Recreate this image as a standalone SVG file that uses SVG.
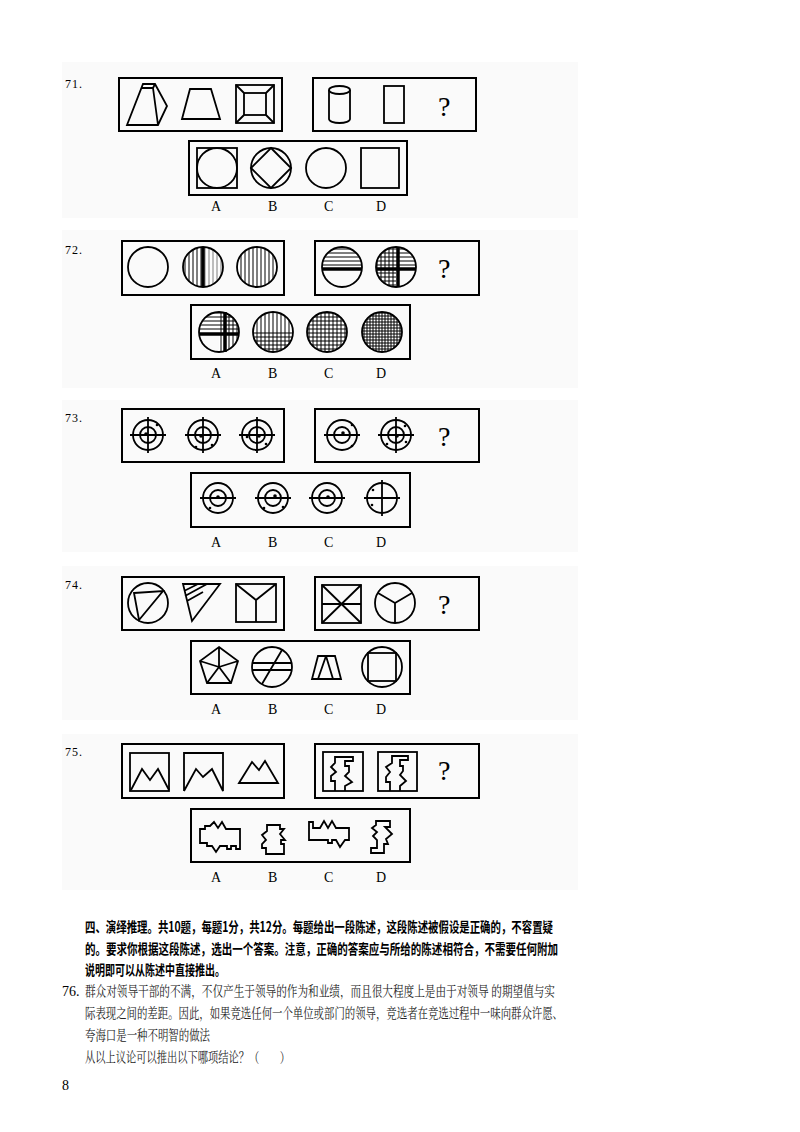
<svg xmlns="http://www.w3.org/2000/svg" width="800" height="1132" viewBox="0 0 800 1132">
<style>
.bx{fill:none;stroke:#000;stroke-width:2}
.s{fill:none;stroke:#000;stroke-width:1.8;stroke-linejoin:miter}
.t{stroke:#000;stroke-width:3.5}
.lab{font-family:"Liberation Serif",serif;font-size:14px;fill:#000}
.num{font-family:"Liberation Serif",serif;font-size:12px;fill:#000;letter-spacing:1px}
.q{font-family:"Liberation Serif",serif;font-size:28px;fill:#000}
.bt{font-family:"Noto Sans CJK SC",sans-serif;font-size:14px;font-weight:bold;fill:#000}
.nt{font-family:"Noto Serif CJK SC","Noto Sans CJK SC",serif;font-size:14px;fill:#222}
.dot{fill:#000}
</style>
<defs>
<pattern id="pv" width="4" height="4" patternUnits="userSpaceOnUse"><rect width="4" height="4" fill="#fff"/><line x1="1" y1="0" x2="1" y2="4" stroke="#000" stroke-width="1"/></pattern>
<pattern id="ph" width="4" height="4" patternUnits="userSpaceOnUse"><rect width="4" height="4" fill="#fff"/><line x1="0" y1="1" x2="4" y2="1" stroke="#000" stroke-width="1"/></pattern>
<pattern id="pg" width="4" height="4" patternUnits="userSpaceOnUse"><rect width="4" height="4" fill="#fff"/><path d="M1 0V4M0 1H4" stroke="#000" stroke-width="1"/></pattern>
<pattern id="pd" width="3" height="3" patternUnits="userSpaceOnUse"><rect width="3" height="3" fill="#fff"/><path d="M1 0V3M0 1H3" stroke="#000" stroke-width="1"/></pattern>
</defs>
<rect width="800" height="1132" fill="#fff"/>
<g id="bg" fill="#fafafa">
<rect x="62" y="62" width="516" height="156"/>
<rect x="62" y="230" width="516" height="158"/>
<rect x="62" y="400" width="516" height="152"/>
<rect x="62" y="566" width="516" height="154"/>
<rect x="62" y="734" width="516" height="156"/>
</g>

<g id="q71">
<text class="num" x="65" y="88">71.</text>
<rect class="bx" x="119" y="78" width="163" height="53" fill="#fff"/>
<rect class="bx" x="313" y="78" width="163" height="53" fill="#fff"/>
<rect class="bx" x="189" y="141" width="218" height="54" fill="#fff"/>
<path class="s" d="M127 125L143 84H155L167 106L158 125Z M142 88H153 M153 88L158 125 M155 84L153 88"/>
<path class="s" d="M182 119L190 89H211L220 119Z"/>
<rect class="s" x="236" y="85" width="38" height="38"/><rect class="s" x="244" y="93" width="22" height="22"/>
<path class="s" d="M236 85L244 93M274 85L266 93M236 123L244 115M274 123L266 115"/>
<path class="s" d="M329 90V119A10.5 4 0 0 0 350 119V90"/><ellipse class="s" cx="339.5" cy="90" rx="10.5" ry="4"/>
<rect class="s" x="384" y="86" width="20" height="37"/>
<text class="q" x="438" y="116">?</text>
<rect class="s" x="197" y="148" width="40" height="40"/><circle class="s" cx="217" cy="168" r="20"/>
<circle class="s" cx="271" cy="168" r="20"/><path class="s" d="M271 148L291 168L271 188L251 168Z"/>
<circle class="s" cx="326" cy="168" r="20"/>
<rect class="s" x="361" y="148" width="38" height="40"/>
<text class="lab" x="211" y="211">A</text><text class="lab" x="268" y="211">B</text><text class="lab" x="324" y="211">C</text><text class="lab" x="376" y="211">D</text>
</g>

<g id="q72">
<text class="num" x="65" y="254">72.</text>
<rect class="bx" x="122" y="241" width="162" height="54" fill="#fff"/>
<rect class="bx" x="315" y="241" width="164" height="54" fill="#fff"/>
<rect class="bx" x="191" y="305" width="219" height="54" fill="#fff"/>
<circle class="s" cx="148" cy="267" r="20"/>
<path d="M203 247A20 20 0 0 0 203 287Z" fill="url(#pv)"/><path d="M203 247A20 20 0 0 1 203 287Z" fill="url(#pv)" opacity="0.5"/><line class="t" x1="203" y1="247" x2="203" y2="287"/><circle class="s" cx="203" cy="267" r="20"/>
<circle cx="257" cy="267" r="20" fill="url(#pv)"/><circle class="s" cx="257" cy="267" r="20"/>
<path d="M322 267A20 20 0 0 1 362 267Z" fill="url(#ph)"/><line class="t" x1="322" y1="269" x2="362" y2="269"/><circle class="s" cx="342" cy="267" r="20"/>
<path d="M376 267A20 20 0 0 1 416 267Z" fill="url(#ph)"/><path d="M396 247A20 20 0 0 0 376 267L396 267Z M376 267A20 20 0 0 0 396 287V267Z" fill="url(#pg)"/><path class="t" d="M376 269H416M398 247V287" stroke-width="2.5"/><circle class="s" cx="396" cy="267" r="20"/>
<text class="q" x="438" y="278">?</text>
<path d="M199 332A20 20 0 0 1 239 332Z" fill="url(#ph)"/><path d="M219 312A20 20 0 0 1 219 352Z" fill="url(#pv)"/><path d="M219 312A20 20 0 0 1 239 332H219Z" fill="url(#pg)"/><path class="t" d="M199 334H239M225 312V352" stroke-width="2.5"/><circle class="s" cx="219" cy="332" r="20"/>
<path d="M253 332A20 20 0 0 1 293 332Z" fill="url(#pv)"/><path d="M253 332A20 20 0 0 0 293 332Z" fill="url(#pg)"/><circle class="s" cx="273" cy="332" r="20"/>
<circle cx="327" cy="332" r="20" fill="url(#pg)"/><circle class="s" cx="327" cy="332" r="20"/>
<circle cx="382" cy="332" r="20" fill="url(#pd)"/><circle class="s" cx="382" cy="332" r="20"/>
<text class="lab" x="211" y="378">A</text><text class="lab" x="268" y="378">B</text><text class="lab" x="324" y="378">C</text><text class="lab" x="376" y="378">D</text>
</g>

<g id="q73">
<text class="num" x="65" y="422">73.</text>
<rect class="bx" x="122" y="409" width="162" height="53" fill="#fff"/>
<rect class="bx" x="315" y="409" width="164" height="53" fill="#fff"/>
<rect class="bx" x="191" y="473" width="219" height="54" fill="#fff"/>
<g class="s">
<circle cx="148" cy="435" r="15"/><circle cx="148" cy="435" r="8"/><path d="M130 435H166M148 417V453"/>
<circle cx="203" cy="435" r="15"/><circle cx="203" cy="435" r="8"/><path d="M185 435H221M203 417V453"/>
<circle cx="257" cy="435" r="15"/><circle cx="257" cy="435" r="8"/><path d="M239 435H275M257 417V453"/>
<circle cx="342" cy="435" r="15"/><circle cx="342" cy="435" r="8"/><path d="M324 435H360"/>
<circle cx="396" cy="435" r="15"/><circle cx="396" cy="435" r="8"/><path d="M378 435H414M396 417V453"/>
<circle cx="218" cy="498" r="15"/><circle cx="218" cy="498" r="8"/><path d="M200 498H236"/>
<circle cx="273" cy="498" r="15"/><circle cx="273" cy="498" r="8"/><path d="M255 498H291"/>
<circle cx="327" cy="498" r="15"/><circle cx="327" cy="498" r="8"/><path d="M309 498H345"/>
<circle cx="382" cy="498" r="15"/><path d="M364 498H400M382 480V516"/>
</g>
<g class="dot">
<circle cx="146" cy="434" r="1.8"/><circle cx="157" cy="425" r="1.3"/>
<circle cx="201" cy="436" r="1.8"/><circle cx="212" cy="445" r="1.3"/><circle cx="196" cy="447" r="1.3"/>
<circle cx="259" cy="436" r="1.8"/><circle cx="247" cy="437" r="1.3"/><circle cx="266" cy="444" r="1.3"/>
<circle cx="343" cy="433" r="1.8"/><circle cx="352" cy="425" r="1.3"/><circle cx="352" cy="446" r="1.3"/>
<circle cx="397" cy="436" r="1.8"/><circle cx="387" cy="444" r="1.3"/><circle cx="406" cy="442" r="1.3"/><circle cx="405" cy="426" r="1.3"/>
<circle cx="218" cy="497" r="1.8"/><circle cx="210" cy="508" r="1.3"/>
<circle cx="275" cy="496" r="1.8"/><circle cx="264" cy="508" r="1.3"/><circle cx="283" cy="507" r="1.3"/>
<circle cx="328" cy="497" r="1.8"/><circle cx="336" cy="510" r="1.3"/>
<circle cx="373" cy="490" r="1.3"/><circle cx="372" cy="505" r="1.3"/>
</g>
<text class="q" x="438" y="446">?</text>
<text class="lab" x="211" y="547">A</text><text class="lab" x="268" y="547">B</text><text class="lab" x="324" y="547">C</text><text class="lab" x="376" y="547">D</text>
</g>

<g id="q74">
<text class="num" x="65" y="589">74.</text>
<rect class="bx" x="122" y="577" width="162" height="53" fill="#fff"/>
<rect class="bx" x="315" y="577" width="164" height="53" fill="#fff"/>
<rect class="bx" x="191" y="641" width="219" height="53" fill="#fff"/>
<g class="s">
<circle cx="148" cy="603" r="20"/><path d="M134 593L163 591L139 620Z"/>
<path d="M183 584H220L192 621Z M184 591L198 584 M185 596L207 584 M187 601L203 592"/>
<rect x="236" y="584" width="40" height="38"/><path d="M236 584L256 600L276 584M256 600V622"/>
<rect x="322" y="585" width="39" height="38"/><path d="M322 585L361 623M361 585L322 623M322 604H361"/>
<circle cx="395" cy="603" r="20"/><path d="M395 603L378 593M395 603L412 593M395 603V623"/>
<path d="M219 647L238 661L231 683L207 683L200 661Z M219 667L219 647M219 667L238 661M219 667L231 683M219 667L207 683M219 667L200 661"/>
<circle cx="272" cy="667" r="20"/><path d="M253 663H291M253 670H291M262 684L282 650"/>
<path d="M312 679H341L335 656H318Z M318 679L326 656M326 656L333 679"/>
<circle cx="382" cy="667" r="20"/><rect x="368" y="653" width="28" height="28"/>
</g>
<text class="q" x="438" y="614">?</text>
<text class="lab" x="211" y="714">A</text><text class="lab" x="268" y="714">B</text><text class="lab" x="324" y="714">C</text><text class="lab" x="376" y="714">D</text>
</g>

<g id="q75">
<text class="num" x="65" y="756">75.</text>
<rect class="bx" x="122" y="744" width="162" height="54" fill="#fff"/>
<rect class="bx" x="315" y="744" width="164" height="54" fill="#fff"/>
<rect class="bx" x="191" y="809" width="219" height="53" fill="#fff"/>
<g class="s">
<rect x="130" y="753" width="39" height="38"/><path d="M131 790L142 769L150 780L158 769L169 790"/>
<path d="M184 791V753H223V791L212 769L203 777L196 769L184 791"/>
<path d="M239 783L252 762L259 770L265 761L278 783Z"/>
<rect x="323" y="752" width="40" height="39"/>
<path d="M335 791V781H331V776L336 772L331 767L335 763V757H353V761H345V766H349V772L345 776L352 782L345 786V791"/>
<rect x="378" y="752" width="39" height="39"/>
<path d="M390 791V782H386V777L390 772L386 767L392 763V756H408V760H400V766H403V771L400 775L406 781L400 786V791"/>
<path d="M200 829H205V826H210L214 822L218 828L222 822L226 829H240V849H236V846H231V849H227V846H220L216 852L212 846H207V843H200Z"/>
<path d="M267 825H280V829H284L280 834L285 840H281V844H284V854H266V848H262V844L266 840L262 835L267 831Z"/>
<path d="M309 822H313V828H320L324 821L328 828L332 821L336 828H349V840H345L340 847L336 840H332V843H328V840H309Z"/>
<path d="M376 821H390V827H385L392 834L386 839L388 844H384V853H371V848H377V840L373 836L377 832L372 828L376 825Z"/>
</g>
<text class="q" x="438" y="780">?</text>
<text class="lab" x="211" y="882">A</text><text class="lab" x="268" y="882">B</text><text class="lab" x="324" y="882">C</text><text class="lab" x="376" y="882">D</text>
</g>

<g id="text">
<text class="bt" x="85" y="932" textLength="468" lengthAdjust="spacingAndGlyphs">四、演绎推理。共10题，每题1分，共12分。每题给出一段陈述，这段陈述被假设是正确的，不容置疑</text>
<text class="bt" x="85" y="954" textLength="473" lengthAdjust="spacingAndGlyphs">的。要求你根据这段陈述，选出一个答案。注意，正确的答案应与所给的陈述相符合，不需要任何附加</text>
<text class="bt" x="85" y="975" textLength="140" lengthAdjust="spacingAndGlyphs">说明即可以从陈述中直接推出。</text>
<text class="lab" x="62" y="996" font-size="15">76.</text>
<text class="nt" x="85" y="996" textLength="470" lengthAdjust="spacingAndGlyphs">群众对领导干部的不满，不仅产生于领导的作为和业绩，而且很大程度上是由于对领导 的期望值与实</text>
<text class="nt" x="85" y="1018" textLength="478" lengthAdjust="spacingAndGlyphs">际表现之间的差距。因此，如果竞选任何一个单位或部门的领导，竞选者在竞选过程中一味向群众许愿、</text>
<text class="nt" x="85" y="1040" textLength="125" lengthAdjust="spacingAndGlyphs">夸海口是一种不明智的做法</text>
<text class="nt" x="85" y="1062" textLength="205" lengthAdjust="spacingAndGlyphs">从以上议论可以推出以下哪项结论？（　　）</text>
<text class="lab" x="62" y="1090">8</text>
</g>
</svg>
